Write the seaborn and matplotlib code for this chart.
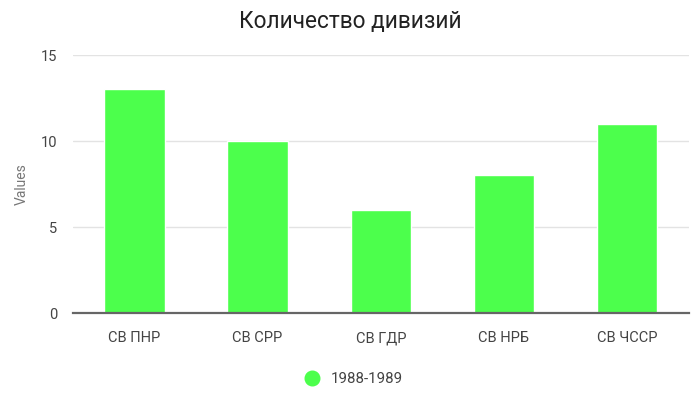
import matplotlib
matplotlib.use("Agg")
import matplotlib.pyplot as plt
import seaborn as sns
import pandas as pd
from matplotlib.lines import Line2D

categories = ["СВ ПНР", "СВ СРР", "СВ ГДР", "СВ НРБ", "СВ ЧССР"]
values = [13, 10, 6, 8, 11]
series_name = "1988-1989"
title = "Количество дивизий"
bar_color = "#4cff4c"

sns.set_theme(style="white")
plt.rcParams['font.family'] = ['Roboto', 'DejaVu Sans']

df = pd.DataFrame({"cat": categories, "val": values})

fig = plt.figure(figsize=(7, 4.12), dpi=100)
ax = fig.add_axes([0.104, 0.24, 0.88, 0.6265])
sns.barplot(data=df, x="cat", y="val", color=bar_color, saturation=1, width=0.49, ax=ax)

ax.set_xlim(-0.5, 4.5)
ax.set_ylim(0, 15)
ax.set_yticks([0, 5, 10, 15])
ax.yaxis.grid(True, color="#e3e3e3", linewidth=1)
ax.set_axisbelow(True)
for s in ["top", "right", "left"]:
    ax.spines[s].set_visible(False)
ax.spines["bottom"].set_color("#666666")
ax.spines["bottom"].set_linewidth(1.6)
ax.tick_params(axis="both", length=0, labelsize=10.5, colors="#444444")
ax.tick_params(axis="x", pad=13)
ax.tick_params(axis="y", pad=11)
ax.set_xlabel("")
ax.set_ylabel("Values", fontsize=10, color="#777777", labelpad=9)

fig.suptitle(title, fontsize=16.3, color="#222222", y=0.975)

handle = Line2D([], [], marker="o", linestyle="", markersize=10.5,
                markerfacecolor=bar_color, markeredgecolor=bar_color)
fig.legend([handle], [series_name], loc="center", bbox_to_anchor=(0.5, 0.08),
           frameon=False, fontsize=10.8, labelcolor="#444444", handletextpad=0.3)

fig.savefig("out.png", dpi=100)
